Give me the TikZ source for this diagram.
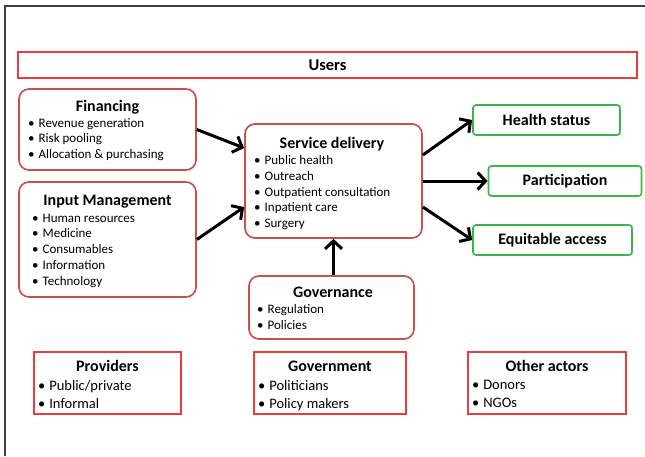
\documentclass[tikz,border=0pt]{standalone}
\usepackage{fontspec}
\setmainfont{Carlito}
\usetikzlibrary{arrows.meta,calc}
\definecolor{boxred}{HTML}{C8504E}
\definecolor{brightred}{HTML}{F0393A}
\definecolor{outgreen}{HTML}{3DB54A}
\definecolor{framegray}{HTML}{404040}
\newcommand{\bul}{\textbullet\hspace{4pt}}
\tikzset{
  roundbox/.style={draw=boxred, line width=1.7pt, rounded corners=10pt, inner sep=0pt},
  actorbox/.style={draw=brightred, line width=2.2pt, inner sep=0pt},
  outbox/.style={draw=outgreen, line width=1.7pt, rounded corners=3pt, font=\bfseries\fontsize{16}{19}\selectfont},
  head/.style={font=\bfseries\fontsize{16}{19}\selectfont, anchor=base, inner sep=0pt},
  items/.style={font=\fontsize{13}{15.75}\selectfont, align=left, anchor=north west, inner sep=0pt},
  smallitems/.style={font=\fontsize{14.5}{18}\selectfont, align=left, anchor=north west, inner sep=0pt},
  flow/.style={line width=3pt, -{Straight Barb[length=8pt,width=17pt]}},
}
\begin{document}
\begin{tikzpicture}[x=1pt, y=-1pt]
\useasboundingbox (0,0) rectangle (645,456);
\draw[framegray, line width=1.2pt] (5,456) -- (5,6) -- (645,6);

\node[actorbox, minimum width=619, minimum height=26,
      font=\bfseries\fontsize{16.5}{19}\selectfont] (users) at (327.5,65) {Users};

\node[roundbox, minimum width=177, minimum height=81] (fin) at (107.5,129.5) {};
\node[head] (finhead) at (107.5,111) {Financing};
\node[items] (finitems) at (28,118)
  {\bul Revenue generation\\ \bul Risk pooling\\ \bul Allocation \& purchasing};

\node[roundbox, minimum width=177, minimum height=115] (inp) at (107.5,239.5) {};
\node[head] (inphead) at (107.5,205) {Input Management};
\node[items] (inpitems) at (32,213.5)
  {\bul Human resources\\ \bul Medicine\\ \bul Consumables\\ \bul Information\\ \bul Technology};

\node[roundbox, minimum width=177, minimum height=114] (svc) at (333.5,181) {};
\node[head] (svchead) at (332,148.5) {Service delivery};
\node[items] (svcitems) at (254,155.5)
  {\bul Public health\\ \bul Outreach\\ \bul Outpatient consultation\\ \bul Inpatient care\\ \bul Surgery};

\node[roundbox, minimum width=165, minimum height=63] (gov) at (331.5,307.5) {};
\node[head] (govhead) at (333,297) {Governance};
\node[items] (govitems) at (257,304.5)
  {\bul Regulation\\ \bul Policies};

\foreach \nm/\cx/\cy/\w/\txt in {hs/546.5/120/147/Health status,
                                 part/565/181/153/Participation,
                                 eq/552.5/240/159/Equitable access} {
  \node[outbox, minimum width=\w, minimum height=30] (\nm) at (\cx,\cy) {\txt};
}

\foreach \nm/\cx/\w/\hd/\a/\b in {prov/107.5/147/Providers/{Public/private}/Informal,
                                  govt/330/152/Government/Politicians/Policy makers,
                                  other/547/158/Other actors/Donors/NGOs} {
  \node[actorbox, minimum width=\w, minimum height=62] (\nm) at (\cx,383) {};
  \node[head] (\nm head) at (\cx,371) {\hd};
  \node[smallitems] (\nm items) at ($(\nm.west)+(5,-3)$) {\bul \a\\ \bul \b};
}

\draw[flow] (fin.east) -- ($(svc.west)+(0,-33)$);
\draw[flow] (inp.east) -- ($(svc.west)+(0,26)$);
\draw[flow] (gov.north -| svc.south) -- (svc.south);
\foreach \nm/\dy in {hs/-26, part/0, eq/26} {
  \draw[flow] ($(svc.east)+(0,\dy)$) -- (\nm.west);
}
\end{tikzpicture}
\end{document}
